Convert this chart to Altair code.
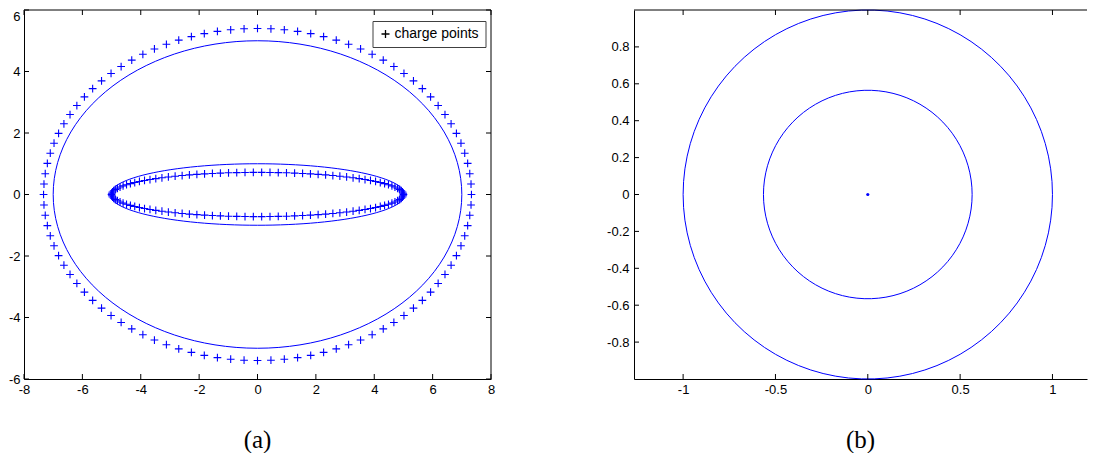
import altair as alt
import numpy as np
import pandas as pd

# ---------------- data ----------------
# Panel (a): contour curves (semi-axes) and charge-point ellipses
a_curve_names = ["outer contour", "inner contour"]
a_curve_semi_x = [7.0, 5.05]
a_curve_semi_y = [5.0, 1.0]
a_charge_names = ["outer charges", "inner charges"]
a_charge_semi_x = [7.33, 5.0]
a_charge_semi_y = [5.4, 0.72]
a_charge_counts = [100, 110]
a_x_ticks = [-8, -6, -4, -2, 0, 2, 4, 6, 8]
a_y_ticks = [-6, -4, -2, 0, 2, 4, 6]
a_x_domain = [-8, 8]
a_y_domain = [-6, 6]
legend_label = "charge points"

# Panel (b): circles and centre point
b_circle_names = ["outer circle", "inner circle"]
b_circle_radii = [1.0, 0.565]
b_center_x = [0.0]
b_center_y = [0.0]
b_x_ticks = [-1, -0.5, 0, 0.5, 1]
b_y_ticks = [-0.8, -0.6, -0.4, -0.2, 0, 0.2, 0.4, 0.6, 0.8]
b_x_domain = [-1.266, 1.187]
b_y_domain = [-1.0, 1.0]

panel_titles = ["(a)", "(b)"]

# ---------------- styling ----------------
BLUE = "#0000ff"
LABEL_FONT = "Liberation Sans"
WA, HA = 467, 369
WB, HB = 453, 369
TICK = 5
CROSS = "M-1,0L1,0M0,-1L0,1"
LABEL_EXPR = "(datum.value < 0 ? '-' : '') + format(abs(datum.value), '~g')"


def closed_curve(names, sx, sy, n=120):
    rows = []
    t = np.linspace(0, 2 * np.pi, n + 1)
    for name, a, b in zip(names, sx, sy):
        for i, tt in enumerate(t):
            rows.append({"curve": name, "i": i, "x": a * np.cos(tt), "y": b * np.sin(tt)})
    return pd.DataFrame(rows)


def charge_points(names, sx, sy, counts):
    rows = []
    for name, a, b, n in zip(names, sx, sy, counts):
        for k in range(n):
            tt = 2 * np.pi * k / n
            rows.append({"set": name, "x": a * np.cos(tt), "y": b * np.sin(tt), "label": legend_label})
    return pd.DataFrame(rows)


def make_axes(xt, yt, ypad, top_cond=None):
    xa = alt.Axis(values=xt, title=None, grid=False, ticks=False, tickSize=0, domain=True,
                  domainColor="black", domainWidth=1, labelPadding=4, labelExpr=LABEL_EXPR,
                  labelFont=LABEL_FONT, labelFontSize=13, labelColor="black",
                  labelFlush=False, labelOverlap=False)
    ykw = dict(values=yt, title=None, grid=False, ticks=False, tickSize=0, domain=True,
               domainColor="black", domainWidth=1, labelPadding=ypad, labelExpr=LABEL_EXPR,
               labelFont=LABEL_FONT, labelFontSize=13, labelColor="black",
               labelFlush=False, labelOverlap=False)
    if top_cond is not None:
        ykw["labelBaseline"] = alt.condition(top_cond, alt.value("top"), alt.value("middle"))
    ya = alt.Axis(**ykw)
    return xa, ya


def tick_layers(xt, yt, xs, ys, xa, ya, W, H, right=True):
    xdf = pd.DataFrame({"v": xt})
    ydf = pd.DataFrame({"v": yt})
    X = alt.X("v:Q", scale=xs, axis=xa)
    Y = alt.Y("v:Q", scale=ys, axis=ya)
    layers = [
        alt.Chart(xdf).mark_rule(color="black", strokeWidth=1).encode(x=X, y=alt.value(H), y2=alt.value(H - TICK)),
        alt.Chart(xdf).mark_rule(color="black", strokeWidth=1).encode(x=X, y=alt.value(0), y2=alt.value(TICK)),
        alt.Chart(ydf).mark_rule(color="black", strokeWidth=1).encode(y=Y, x=alt.value(0), x2=alt.value(TICK)),
    ]
    if right:
        layers.append(alt.Chart(ydf).mark_rule(color="black", strokeWidth=1)
                      .encode(y=Y, x=alt.value(W), x2=alt.value(W - TICK)))
    frame = pd.DataFrame({"d": [0]})
    layers.append(alt.Chart(frame).mark_rule(color="black", strokeWidth=1)
                  .encode(x=alt.value(0), x2=alt.value(W), y=alt.value(0)))
    if right:
        layers.append(alt.Chart(frame).mark_rule(color="black", strokeWidth=1)
                      .encode(x=alt.value(W), y=alt.value(0), y2=alt.value(H)))
    return layers


# ---------------- panel (a) ----------------
xs_a = alt.Scale(domain=a_x_domain, nice=False, zero=False)
ys_a = alt.Scale(domain=a_y_domain, nice=False, zero=False)
xa_a, ya_a = make_axes(a_x_ticks, a_y_ticks, 4, top_cond="datum.value == 6")

curves_a = alt.Chart(closed_curve(a_curve_names, a_curve_semi_x, a_curve_semi_y)).mark_line(
    color=BLUE, strokeWidth=1
).encode(
    x=alt.X("x:Q", scale=xs_a, axis=xa_a),
    y=alt.Y("y:Q", scale=ys_a, axis=ya_a),
    detail="curve:N",
    order="i:Q",
)

points_a = alt.Chart(charge_points(a_charge_names, a_charge_semi_x, a_charge_semi_y, a_charge_counts)).mark_point(
    filled=False, size=60, strokeWidth=1.1, opacity=1, color=BLUE
).encode(
    x=alt.X("x:Q", scale=xs_a, axis=xa_a),
    y=alt.Y("y:Q", scale=ys_a, axis=ya_a),
    shape=alt.Shape(
        "label:N",
        scale=alt.Scale(domain=[legend_label], range=[CROSS]),
        legend=alt.Legend(
            title=None, orient="none", legendX=348.5, legendY=11, padding=6,
            strokeColor="#404040", fillColor="white", cornerRadius=0,
            symbolType=CROSS, symbolSize=64, symbolStrokeWidth=1.3,
            symbolStrokeColor="black", labelFont=LABEL_FONT, labelFontSize=14,
            labelColor="black", labelOffset=2,
        ),
    ),
)

panel_a = alt.layer(
    curves_a, points_a,
    *tick_layers(a_x_ticks, a_y_ticks, xs_a, ys_a, xa_a, ya_a, WA, HA, right=True)
).properties(
    width=WA, height=HA,
    title=alt.TitleParams(panel_titles[0], orient="bottom", anchor="middle", font="Liberation Serif",
                          fontSize=25, fontWeight="normal", color="black", offset=32),
)

# ---------------- panel (b) ----------------
xs_b = alt.Scale(domain=b_x_domain, nice=False, zero=False)
ys_b = alt.Scale(domain=b_y_domain, nice=False, zero=False)
xa_b, ya_b = make_axes(b_x_ticks, b_y_ticks, 5)

circles_b = alt.Chart(closed_curve(b_circle_names, b_circle_radii, b_circle_radii, n=90)).mark_line(
    color=BLUE, strokeWidth=1
).encode(
    x=alt.X("x:Q", scale=xs_b, axis=xa_b),
    y=alt.Y("y:Q", scale=ys_b, axis=ya_b),
    detail="curve:N",
    order="i:Q",
)

center_b = alt.Chart(pd.DataFrame({"x": b_center_x, "y": b_center_y})).mark_circle(
    color=BLUE, size=10, opacity=1
).encode(
    x=alt.X("x:Q", scale=xs_b, axis=xa_b),
    y=alt.Y("y:Q", scale=ys_b, axis=ya_b),
)

panel_b = alt.layer(
    circles_b, center_b,
    *tick_layers(b_x_ticks, b_y_ticks, xs_b, ys_b, xa_b, ya_b, WB, HB, right=False)
).properties(
    width=WB, height=HB,
    title=alt.TitleParams(panel_titles[1], orient="bottom", anchor="middle", font="Liberation Serif",
                          fontSize=25, fontWeight="normal", color="black", offset=32),
)

chart = alt.hconcat(panel_a, panel_b, spacing=143, bounds="flush").resolve_legend(
    shape="independent"
).properties(
    padding={"left": 0, "top": 0, "right": 0, "bottom": 0},
    background="white",
).configure_view(stroke=None)

chart.save("out.html", embed_options={"renderer": "svg", "actions": False})
